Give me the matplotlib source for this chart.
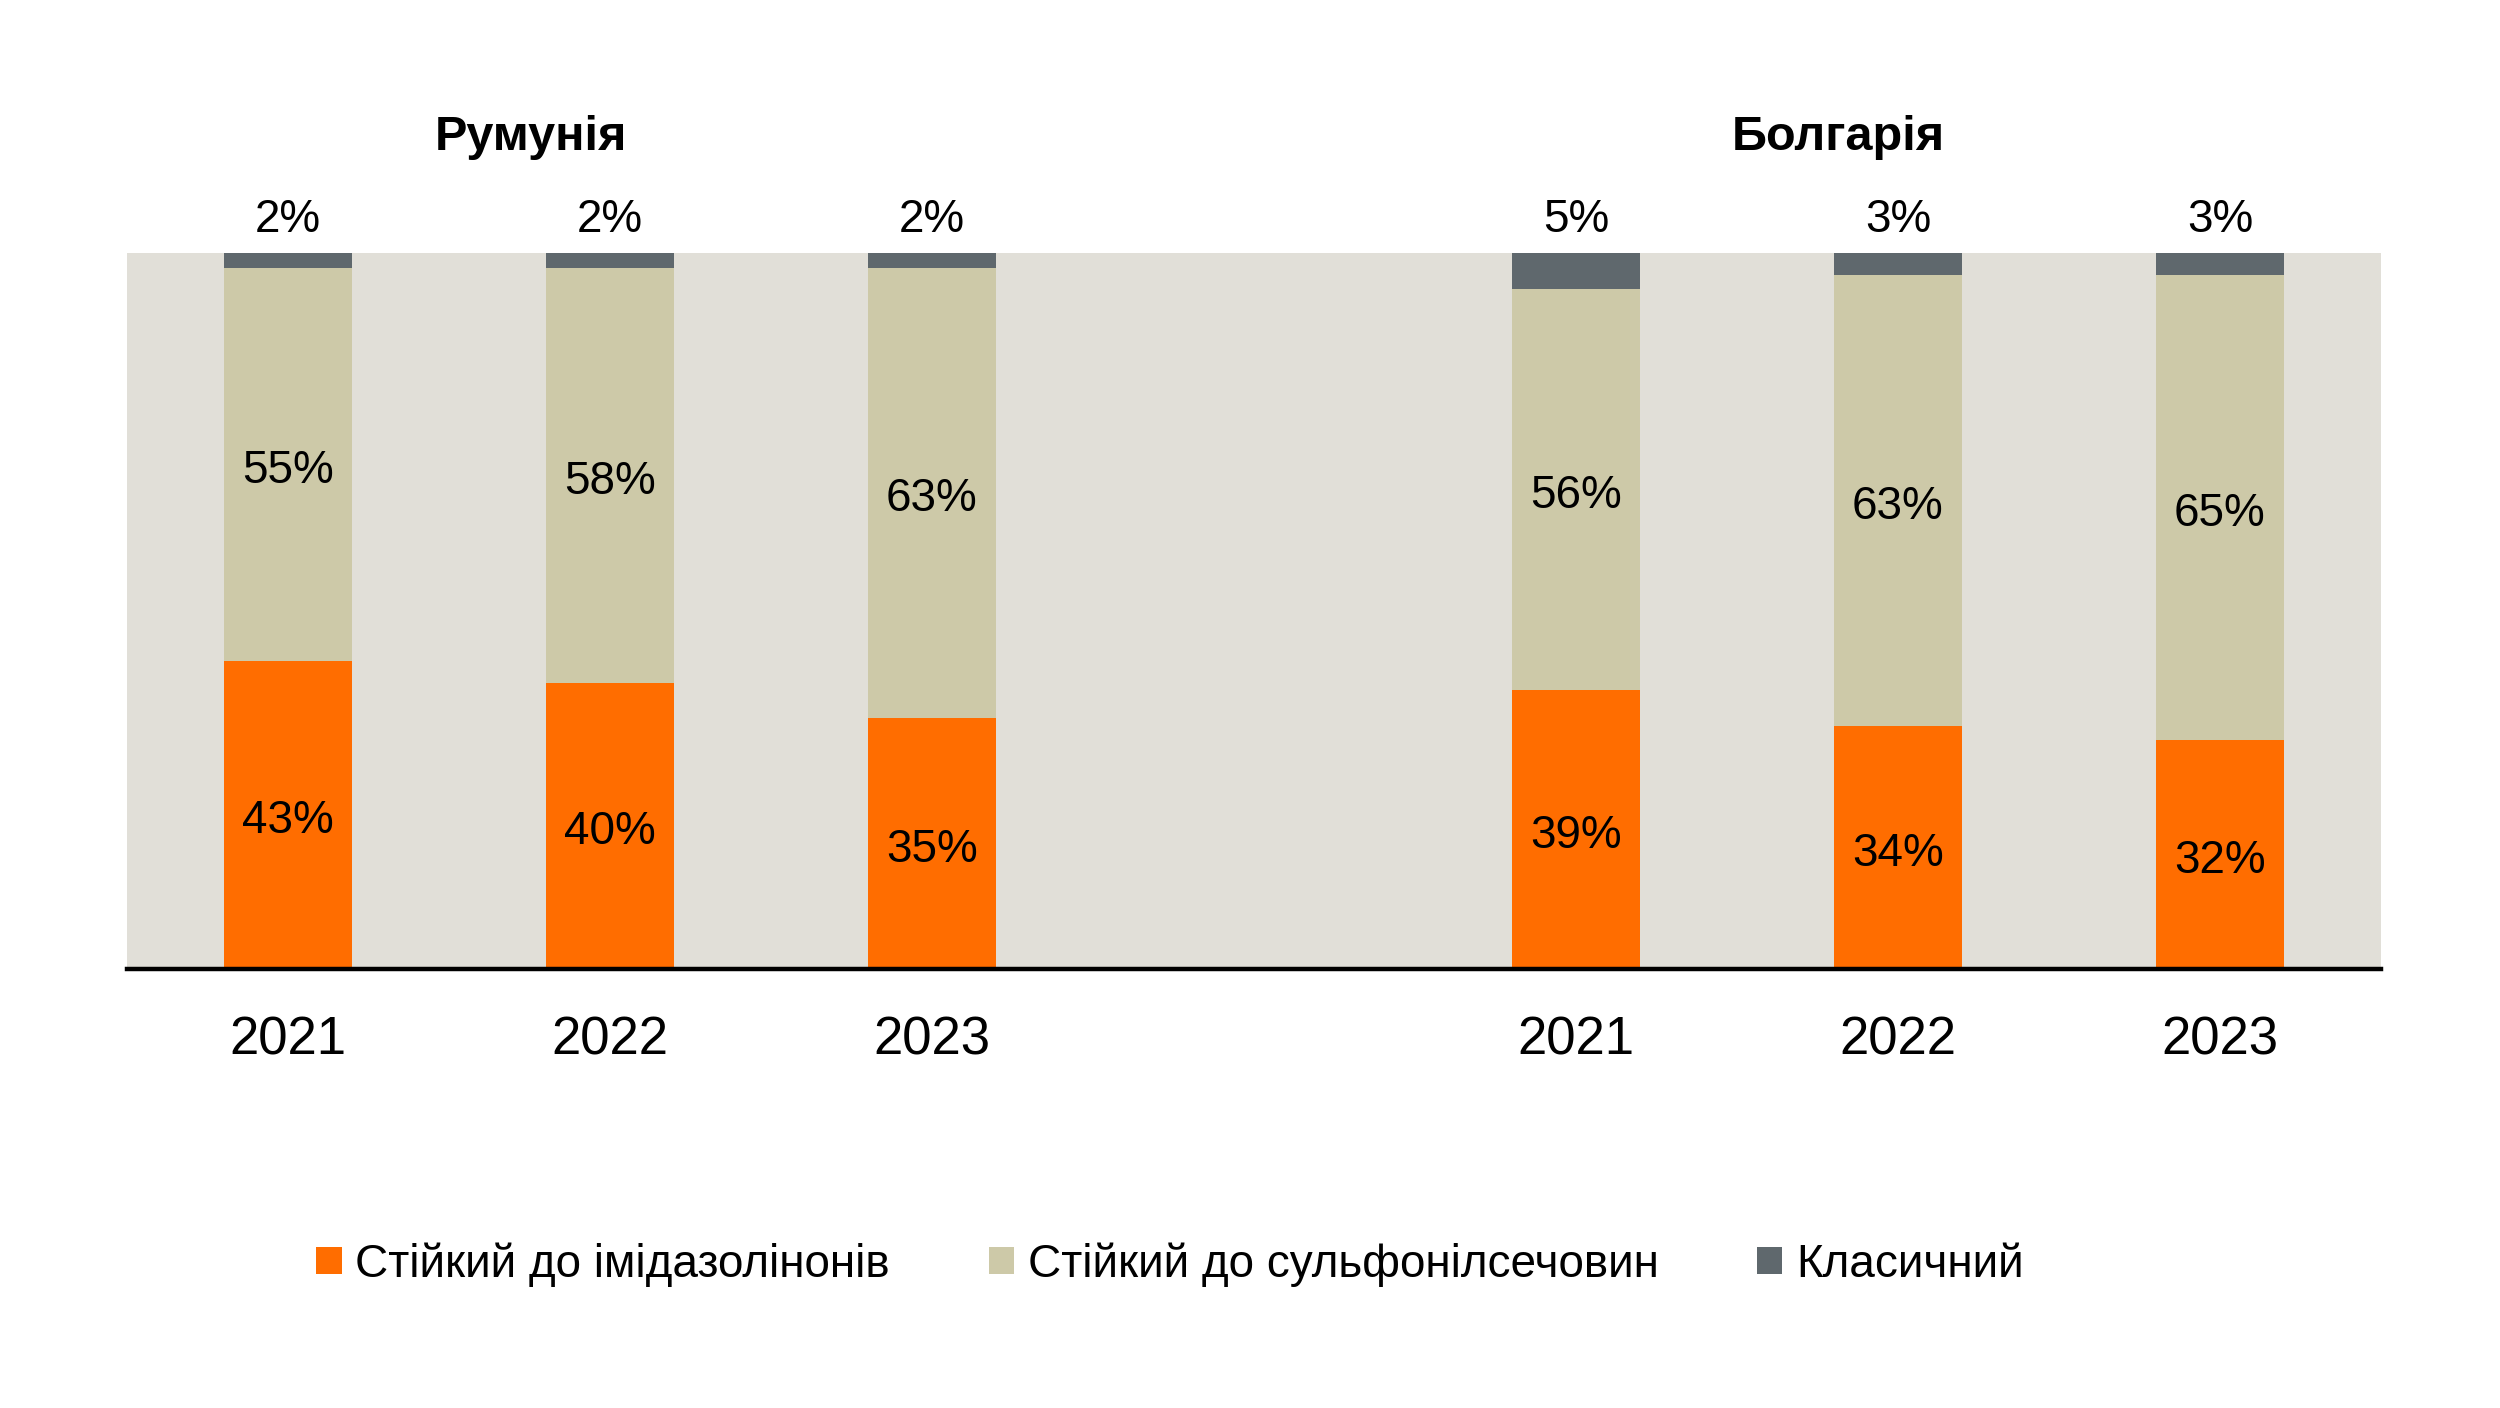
import matplotlib
matplotlib.use("Agg")
import matplotlib.pyplot as plt
from matplotlib.patches import Patch

plt.rcParams["font.family"] = ["Liberation Sans", "DejaVu Sans"]

COUNTRIES = ["Румунія", "Болгарія"]
YEARS = ["2021", "2022", "2023", "2021", "2022", "2023"]
IMIDAZOLINONE = [43, 40, 35, 39, 34, 32]
SULFONYLUREA = [55, 58, 63, 56, 63, 65]
CLASSIC = [2, 2, 2, 5, 3, 3]
SERIES_NAMES = ["Стійкий до імідазолінонів", "Стійкий до сульфонілсечовин", "Класичний"]

COLORS = ["#FF6D00", "#CDC9A8", "#5F686D"]
BG = "#E1DFD8"

# two groups of three bars with an empty slot between them
positions = [0, 1, 2, 4, 5, 6]


def main():
    fig = plt.figure(figsize=(12.5, 7.04), dpi=200)
    ax = fig.add_axes([0.0508, 0.312, 0.9016, 0.508])
    ax.set_facecolor(BG)

    width = 0.4
    ax.bar(positions, IMIDAZOLINONE, width, color=COLORS[0], zorder=2)
    bottom2 = IMIDAZOLINONE
    ax.bar(positions, SULFONYLUREA, width, bottom=bottom2, color=COLORS[1], zorder=2)
    bottom3 = [a + b for a, b in zip(IMIDAZOLINONE, SULFONYLUREA)]
    ax.bar(positions, CLASSIC, width, bottom=bottom3, color=COLORS[2], zorder=2)

    # inside labels sit a touch below segment centre, as in the source
    for x, a, b, c in zip(positions, IMIDAZOLINONE, SULFONYLUREA, CLASSIC):
        ax.text(x, a / 2 - 0.9, f"{a}%", ha="center", va="center", fontsize=16.5)
        ax.text(x, a + b / 2 - 0.9, f"{b}%", ha="center", va="center", fontsize=16.5)
        ax.text(x, a + b + c + 4.7, f"{c}%", ha="center", va="center", fontsize=16.5, clip_on=False)

    ax.text(0.755, 116.2, COUNTRIES[0], ha="center", va="center", fontsize=17.5, fontweight="bold")
    ax.text(4.815, 116.2, COUNTRIES[1], ha="center", va="center", fontsize=17.5, fontweight="bold")

    ax.set_xlim(-0.5, 6.5)
    ax.set_ylim(0, 100)
    ax.set_xticks(positions)
    ax.set_xticklabels(YEARS, fontsize=19)
    ax.tick_params(axis="x", length=0, pad=17)
    ax.set_yticks([])
    for side in ["top", "left", "right"]:
        ax.spines[side].set_visible(False)
    ax.spines["bottom"].set_linewidth(1.6)
    ax.spines["bottom"].set_zorder(3)

    handles = [Patch(facecolor=c, edgecolor="none") for c in COLORS]
    fig.legend(
        handles,
        SERIES_NAMES,
        loc="center",
        bbox_to_anchor=(0.468, 0.102),
        ncol=3,
        frameon=False,
        fontsize=16.5,
        handlelength=0.55,
        handleheight=0.55,
        handletextpad=0.3,
        columnspacing=2.15,
    )

    fig.savefig("out.png", dpi=200)
    plt.close(fig)


if __name__ == "__main__":
    main()
